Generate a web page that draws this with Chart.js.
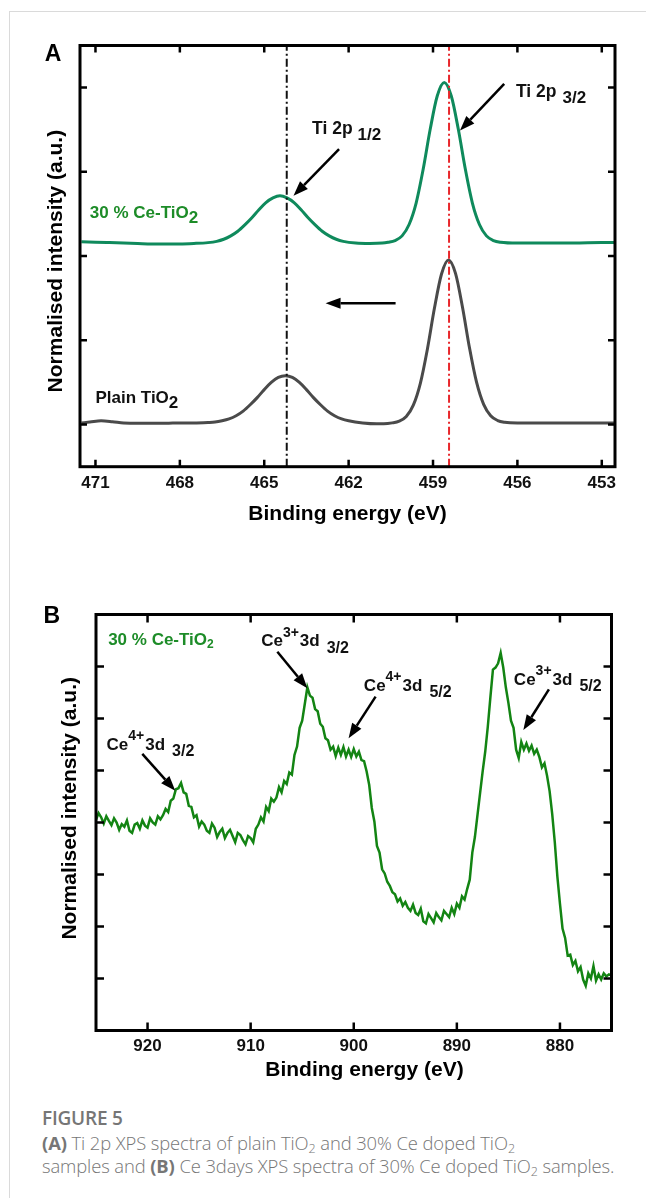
<!DOCTYPE html>
<html>
<head>
<meta charset="utf-8">
<script src="https://cdn.jsdelivr.net/npm/chart.js@4/dist/chart.umd.min.js"></script>
<style>
  html, body { margin: 0; padding: 0; background: #fff; }
  body { width: 646px; height: 1198px; position: relative; overflow: hidden; font-family: "Open Sans", sans-serif; }
  .frame { position: absolute; left: 9px; top: 11px; right: -2px; bottom: -2px; border-left: 1px solid #dadada; border-top: 1px solid #dadada; }
  #chartA { position: absolute; left: 0; top: 0; }
  #chartB { position: absolute; left: 0; top: 560px; }
  .caption { position: absolute; left: 42px; top: 1105px; width: 604px; color: #767676; }
  .caption .fig { font-size: 19px; font-weight: 600; line-height: 26px; letter-spacing: -0.2px; }
  .caption p { margin: 0; font-size: 18.4px; font-weight: 300; line-height: 23.4px; white-space: nowrap; letter-spacing: -0.1px; }
  .caption b { font-weight: 700; }
  .caption sub { font-size: 12.5px; vertical-align: -3px; line-height: 0; }
</style>
</head>
<body>
<div class="frame"></div>
<canvas id="chartA" width="646" height="560"></canvas>
<canvas id="chartB" width="646" height="535"></canvas>
<div class="caption">
  <div class="fig">FIGURE 5</div>
  <p><b>(A)</b> Ti 2p XPS spectra of plain TiO<sub>2</sub> and 30% Ce doped TiO<sub>2</sub><br>samples and <b>(B)</b> Ce 3days XPS spectra of 30% Ce doped TiO<sub>2</sub> samples.</p>
</div>
<script>
// ---- Panel A: Ti 2p ----
const tiTicks = [453, 456, 459, 462, 465, 468, 471];
const tiIntensityTicks = [0.1, 0.3, 0.5, 0.7, 0.9];

const tiPlainEnergy = [471.5, 471.2, 470.8, 470.4, 470, 469.5, 469, 468.5, 468, 467.5,
  467, 466.75, 466.5, 466.25, 466, 465.75, 465.5, 465.25, 465, 464.75,
  464.5, 464.25, 464, 463.75, 463.5, 463.25, 463, 462.75, 462.5, 462.25,
  462, 461.5, 461, 460.75, 460.45, 460.2, 459.95, 459.7, 459.45, 459.2,
  458.95, 458.7, 458.45, 458.2, 457.95, 457.7, 457.45, 457.2, 456.95, 456.7,
  456.45, 456, 455.5, 455, 454, 453, 452.5];
const tiPlainIntensity = [0.104, 0.106, 0.109, 0.107, 0.104, 0.103, 0.103, 0.103, 0.104, 0.104,
  0.105, 0.106, 0.109, 0.1135, 0.121, 0.132, 0.147, 0.164, 0.183, 0.200,
  0.212, 0.216, 0.212, 0.200, 0.183, 0.164, 0.147, 0.132, 0.121, 0.1135,
  0.109, 0.104, 0.102, 0.102, 0.104, 0.108, 0.119, 0.146, 0.198, 0.279,
  0.376, 0.457, 0.491, 0.459, 0.378, 0.281, 0.200, 0.148, 0.121, 0.1095,
  0.1055, 0.104, 0.104, 0.104, 0.104, 0.104, 0.104];

const tiDopedEnergy = [471.5, 471, 470.5, 470, 469.5, 469, 468.5, 468, 467.5, 467,
  466.69, 466.44, 466.19, 465.94, 465.69, 465.44, 465.19, 464.94, 464.69, 464.44,
  464.19, 463.94, 463.69, 463.44, 463.19, 462.94, 462.69, 462.44, 462.19, 461.75,
  461.25, 460.8, 460.6, 460.35, 460.1, 459.85, 459.6, 459.35, 459.1, 458.85,
  458.6, 458.35, 458.1, 457.85, 457.6, 457.35, 457.1, 456.85, 456.6, 456,
  455.5, 455, 454, 453, 452.5];
const tiDopedIntensity = [0.534, 0.533, 0.532, 0.531, 0.530, 0.529, 0.529, 0.529, 0.530, 0.532,
  0.535, 0.540, 0.548, 0.559, 0.574, 0.591, 0.610, 0.627, 0.638, 0.643,
  0.638, 0.627, 0.610, 0.591, 0.574, 0.559, 0.548, 0.540, 0.535, 0.531,
  0.530, 0.531, 0.533, 0.537, 0.548, 0.575, 0.626, 0.706, 0.801, 0.880,
  0.912, 0.880, 0.801, 0.706, 0.626, 0.575, 0.548, 0.537, 0.533, 0.531,
  0.531, 0.531, 0.531, 0.532, 0.532];

// peak reference lines (eV)
const ti12Line = 464.2;
const ti32Line = 458.43;

// ---- Panel B: Ce 3d ----
const ceTicks = [880, 890, 900, 910, 920];
const ceIntensityTicks = [1, 2, 3, 4, 5, 6, 7];
const ceStart = 925;   // first sample, eV
const ceStep = 0.25;   // spacing between samples, eV
const ceIntensity = [
  4.05, 4.18, 4.10, 3.98, 4.12, 4.03, 3.95, 4.08, 4.00, 3.86,
  3.97, 3.92, 4.04, 3.84, 3.80, 3.96, 3.99, 3.88, 4.04, 3.94,
  3.90, 4.08, 4.00, 3.96, 4.12, 4.06, 4.14, 4.26, 4.20, 4.42,
  4.46, 4.64, 4.66, 4.76, 4.58, 4.55, 4.32, 4.30, 4.10, 4.14,
  3.92, 4.02, 3.96, 3.84, 3.80, 3.98, 3.90, 3.72, 3.82, 3.88,
  3.70, 3.80, 3.86, 3.74, 3.62, 3.80, 3.76, 3.66, 3.58, 3.74,
  3.70, 3.62, 3.88, 3.96, 4.10, 4.02, 4.30, 4.22, 4.46, 4.40,
  4.48, 4.68, 4.58, 4.80, 4.74, 4.96, 4.92, 5.30, 5.46, 5.82,
  5.96, 6.28, 6.60, 6.44, 6.40, 6.18, 6.14, 5.90, 5.84, 5.62,
  5.58, 5.40, 5.46, 5.28, 5.44, 5.30, 5.45, 5.27, 5.40, 5.26,
  5.41, 5.27, 5.36, 5.20, 5.18, 4.98, 4.72, 4.28, 4.02, 3.55,
  3.42, 3.10, 3.02, 2.86, 2.78, 2.66, 2.62, 2.48, 2.54, 2.40,
  2.47, 2.36, 2.30, 2.42, 2.26, 2.22, 2.34, 2.10, 2.06, 2.24,
  2.16, 2.08, 2.26, 2.18, 2.12, 2.30, 2.24, 2.18, 2.36, 2.24,
  2.44, 2.36, 2.58, 2.52, 2.72, 2.90, 3.42, 3.72, 4.14, 4.56,
  4.98, 5.36, 5.84, 6.40, 6.94, 6.98, 7.06, 7.26, 6.98, 6.60,
  6.30, 5.96, 5.82, 5.40, 5.24, 5.55, 5.40, 5.52, 5.38, 5.48,
  5.32, 5.40, 5.26, 5.06, 5.14, 4.90, 4.60, 4.16, 3.62, 2.96,
  2.44, 1.96, 1.78, 1.44, 1.46, 1.26, 1.34, 1.14, 1.22, 0.98,
  0.86, 1.10, 1.00, 1.24, 0.96, 1.08, 0.98, 1.10, 1.04, 1.08,
  1.06
];
const ceEnergy = ceIntensity.map((_, i) => ceStart - i * ceStep);

const FONT = '"Liberation Sans", Arial, sans-serif';
const GREEN_A = '#0f8a5c';
const GREEN_LABEL = '#1d8c28';
const GREEN_B = '#138413';

const zip = (xs, ys) => xs.map((x, i) => ({ x, y: ys[i] }));

// draws text made of pieces (for sub/superscripts)
function drawRich(ctx, parts, x, y, color) {
  let cx = x;
  ctx.fillStyle = color;
  ctx.textBaseline = 'middle';
  ctx.textAlign = 'left';
  parts.forEach(p => {
    ctx.font = `bold ${p.size}px ${FONT}`;
    cx += p.gap || 0;
    ctx.fillText(p.t, cx, y + (p.dy || 0));
    cx += ctx.measureText(p.t).width;
  });
}

function drawArrow(ctx, x1, y1, x2, y2) {
  const ang = Math.atan2(y2 - y1, x2 - x1);
  const len = 15, half = 5.5;
  const bx = x2 - len * Math.cos(ang), by = y2 - len * Math.sin(ang);
  ctx.strokeStyle = '#000';
  ctx.fillStyle = '#000';
  ctx.lineWidth = 2.5;
  ctx.beginPath();
  ctx.moveTo(x1, y1);
  ctx.lineTo(bx, by);
  ctx.stroke();
  ctx.beginPath();
  ctx.moveTo(x2, y2);
  ctx.lineTo(bx + half * Math.sin(ang), by - half * Math.cos(ang));
  ctx.lineTo(bx - half * Math.sin(ang), by + half * Math.cos(ang));
  ctx.closePath();
  ctx.fill();
}

// frame, inward ticks, labels, arrows and axis titles
function makeDecor(spec) {
  return {
    id: 'decor',
    afterDatasetsDraw(chart) {
      const { ctx, chartArea: a, scales: { x, y } } = chart;
      ctx.save();
      ctx.strokeStyle = '#000';
      ctx.lineWidth = 2.5;
      ctx.beginPath();
      x.ticks.forEach(t => {
        const px = x.getPixelForValue(t.value);
        ctx.moveTo(px, a.bottom); ctx.lineTo(px, a.bottom - spec.tickLen);
        ctx.moveTo(px, a.top); ctx.lineTo(px, a.top + spec.tickLen);
      });
      y.ticks.forEach(t => {
        const py = y.getPixelForValue(t.value);
        ctx.moveTo(a.left, py); ctx.lineTo(a.left + spec.tickLen, py);
        ctx.moveTo(a.right, py); ctx.lineTo(a.right - spec.tickLen, py);
      });
      ctx.stroke();
      ctx.lineWidth = 3;
      ctx.strokeRect(a.left, a.top, a.right - a.left, a.bottom - a.top);

      spec.arrows.forEach(ar => {
        drawArrow(ctx, x.getPixelForValue(ar[0]), y.getPixelForValue(ar[1]),
          x.getPixelForValue(ar[2]), y.getPixelForValue(ar[3]));
      });
      spec.labels.forEach(l => {
        drawRich(ctx, l.parts, x.getPixelForValue(l.x), y.getPixelForValue(l.y), l.color);
      });

      // panel letter
      ctx.fillStyle = '#000';
      ctx.font = `bold 23px ${FONT}`;
      ctx.textAlign = 'center';
      ctx.textBaseline = 'middle';
      ctx.fillText(spec.letter, a.left + spec.letterDx, a.top + spec.letterDy);

      // axis titles
      ctx.font = `bold 21px ${FONT}`;
      ctx.textBaseline = 'middle';
      ctx.fillText('Binding energy (eV)', (a.left + a.right) / 2 + spec.xTitleDx, a.bottom + spec.xTitleDy);
      ctx.save();
      ctx.translate(a.left + spec.yTitleDx, (a.top + a.bottom) / 2 + spec.yTitleDy);
      ctx.rotate(-Math.PI / 2);
      ctx.textBaseline = 'alphabetic';
      ctx.fillText('Normalised intensity (a.u.)', 0, 0);
      ctx.restore();
      ctx.restore();
    }
  };
}

function xScale(min, max, ticks, height) {
  return {
    type: 'linear', reverse: true, min, max,
    afterBuildTicks: s => { s.ticks = ticks.map(v => ({ value: v })); },
    afterFit: s => { s.height = height; },
    grid: { display: false, drawTicks: false },
    border: { display: false },
    ticks: { color: '#111', padding: 6, autoSkip: false, maxRotation: 0,
      font: { family: FONT, weight: 'bold', size: 17 } }
  };
}

function yScale(min, max, ticks, width) {
  return {
    type: 'linear', min, max,
    afterBuildTicks: s => { s.ticks = ticks.map(v => ({ value: v })); },
    afterFit: s => { s.width = width; },
    grid: { display: false, drawTicks: false },
    border: { display: false },
    ticks: { display: false }
  };
}

const sub = (t, size, dy, gap) => ({ t, size, dy, gap });

function createTiChart() {
  const refLine = (e, color) => ({
    data: [{ x: e, y: 0 }, { x: e, y: 1 }],
    borderColor: color, borderWidth: 2, borderDash: [8, 3, 2, 3], pointRadius: 0
  });
  new Chart(document.getElementById('chartA'), {
    type: 'line',
    data: {
      datasets: [
        refLine(ti12Line, '#111'),
        refLine(ti32Line, '#e8262a'),
        { data: zip(tiDopedEnergy, tiDopedIntensity), borderColor: GREEN_A, borderWidth: 3,
          pointRadius: 0, cubicInterpolationMode: 'monotone' },
        { data: zip(tiPlainEnergy, tiPlainIntensity), borderColor: '#4a4a4a', borderWidth: 3,
          pointRadius: 0, cubicInterpolationMode: 'monotone' }
      ]
    },
    options: {
      responsive: false, animation: false, events: [],
      layout: { padding: { left: 0, top: 45.5, right: 31, bottom: 0 } },
      plugins: { legend: { display: false }, tooltip: { enabled: false } },
      scales: {
        x: xScale(452.53, 471.55, tiTicks, 93.3),
        y: yScale(0, 1, tiIntensityTicks, 80)
      }
    },
    plugins: [makeDecor({
      tickLen: 7, letter: 'A', letterDx: -27, letterDy: 9.5,
      xTitleDx: 0, xTitleDy: 47.3, yTitleDx: -18.2, yTitleDy: 5,
      arrows: [[456.47, 0.909, 458.04, 0.798], [462.34, 0.754, 463.96, 0.643], [460.33, 0.388, 462.82, 0.388]],
      labels: [
        { x: 456.05, y: 0.890, color: '#111', parts: [sub('Ti 2p', 17.5), sub('3/2', 17, 6.3, 6)] },
        { x: 463.30, y: 0.801, color: '#111', parts: [sub('Ti 2p', 17.5), sub('1/2', 17, 5.7, 5)] },
        { x: 471.20, y: 0.6016, color: GREEN_LABEL, parts: [sub('30 % Ce-TiO', 17), sub('2', 17, 5)] },
        { x: 471.00, y: 0.1624, color: '#111', parts: [sub('Plain TiO', 17), sub('2', 17, 5)] }
      ]
    })]
  });
}

function createCeChart() {
  const ceLabel = (ion, sp, x, y) => ({ x, y, color: '#111', parts: [
    sub('Ce', 17), sub(ion, 14, -9), sub('3d', 17, 0, 1), sub(sp, 16, 7, 7)] });
  new Chart(document.getElementById('chartB'), {
    type: 'line',
    data: {
      datasets: [
        { data: zip(ceEnergy, ceIntensity), borderColor: GREEN_B, borderWidth: 2.5,
          pointRadius: 0, tension: 0 }
      ]
    },
    options: {
      responsive: false, animation: false, events: [],
      layout: { padding: { left: 0, top: 54.5, right: 34.5, bottom: 0 } },
      plugins: { legend: { display: false }, tooltip: { enabled: false } },
      scales: {
        x: xScale(875, 925, ceTicks, 64.5),
        y: yScale(0, 8, ceIntensityTicks, 96)
      }
    },
    plugins: [makeDecor({
      tickLen: 8, letter: 'B', letterDx: -44.3, letterDy: 2.2,
      xTitleDx: 10.7, xTitleDy: 39.5, yTitleDx: -19.8, yTitleDy: -14.2,
      arrows: [[907.41, 7.285, 904.5, 6.58], [897.88, 6.42, 900.5, 5.62],
               [920.51, 5.32, 917.31, 4.61], [881.07, 6.56, 883.55, 5.78]],
      labels: [
        { x: 923.82, y: 7.51, color: GREEN_LABEL, parts: [sub('30 % Ce-TiO', 17), sub('2', 12, 5)] },
        ceLabel('3+', '3/2', 908.98, 7.477),
        ceLabel('4+', '5/2', 899.02, 6.625),
        ceLabel('4+', '3/2', 923.98, 5.49),
        ceLabel('3+', '5/2', 884.47, 6.74)
      ]
    })]
  });
}

createTiChart();
createCeChart();
</script>
</body>
</html>
